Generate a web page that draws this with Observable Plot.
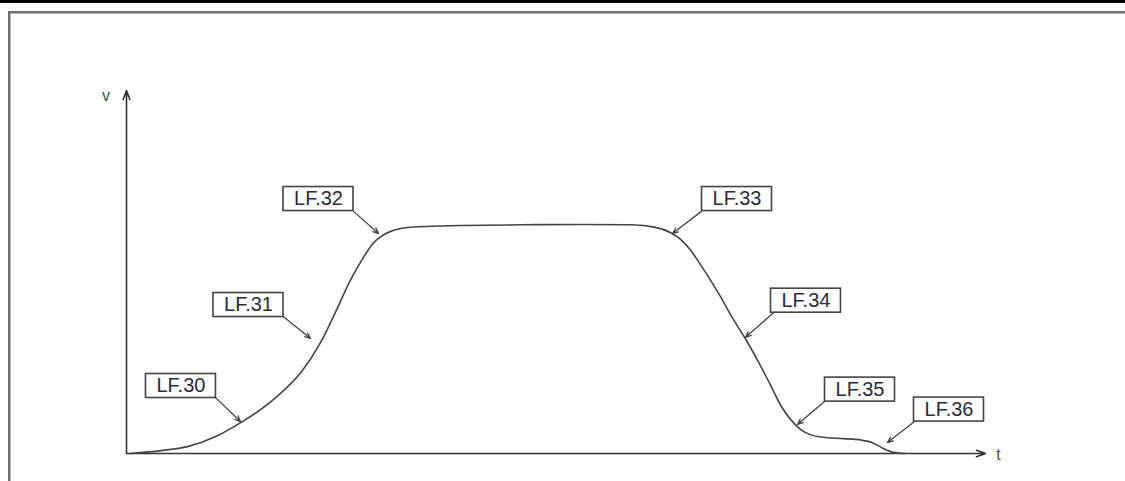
<!DOCTYPE html>
<html>
<head>
<meta charset="utf-8">
<script src="https://cdn.jsdelivr.net/npm/d3@7"></script>
<script src="https://cdn.jsdelivr.net/npm/@observablehq/plot@0.6"></script>
<style>
  html, body { margin: 0; padding: 0; background: #fff; }
  #wrap { position: relative; width: 1125px; height: 481px; overflow: hidden; background: #fff; }
  #topbar { position: absolute; left: 0; top: 0; width: 1125px; height: 3px; background: #000; }
  #frame { position: absolute; left: 8px; top: 11px; width: 1125px; height: 480px;
           border-top: 2px solid #6e6e6e; border-left: 2px solid #6e6e6e;
           box-shadow: inset 1px 1px 0 #b4b4b4; box-sizing: border-box; }
  #chart { position: absolute; left: 0; top: 0; }
</style>
</head>
<body>
<div id="wrap">
  <div id="topbar"></div>
  <div id="frame"></div>
  <div id="chart"></div>
</div>
<script>
// Curve: time t vs value v (abstract units)
const curveT = [0.05, 0.40, 0.71, 1.04, 1.33, 1.56, 1.79, 2.03, 2.26, 2.43, 2.61, 2.75, 2.86, 3.02, 3.19, 3.42, 3.89, 4.59, 5.29, 5.87, 6.16, 6.33, 6.45, 6.57, 6.68, 6.80, 6.92, 7.03, 7.21, 7.38, 7.50, 7.61, 7.73, 7.85, 7.96, 8.14, 8.35, 8.55, 8.69, 8.81, 8.93, 9.07];
const curveV = [0.00, 0.08, 0.19, 0.47, 0.85, 1.21, 1.65, 2.23, 3.06, 3.88, 4.79, 5.37, 5.76, 6.06, 6.20, 6.25, 6.28, 6.30, 6.31, 6.30, 6.23, 6.09, 5.90, 5.59, 5.21, 4.77, 4.30, 3.83, 3.14, 2.42, 1.87, 1.35, 0.94, 0.66, 0.52, 0.44, 0.41, 0.37, 0.29, 0.14, 0.03, 0.00];

// Callout labels
const labelNames = ["LF.30", "LF.31", "LF.32", "LF.33", "LF.34", "LF.35", "LF.36"];
const labelT     = [0.634, 1.420, 2.235, 7.107, 7.910, 8.539, 9.575];
const labelV     = [1.86, 4.09, 7.01, 7.01, 4.21, 1.76, 1.21];
const arrowFromT = [1.036, 1.828, 2.643, 6.694, 7.532, 8.126, 9.173];
const arrowFromV = [1.54, 3.77, 6.67, 6.67, 3.88, 1.43, 0.88];
const arrowToT   = [1.327, 2.142, 2.934, 6.356, 7.206, 7.811, 8.859];
const arrowToV   = [0.88, 3.17, 6.06, 6.06, 3.20, 0.80, 0.30];

// Axes
const axisNames = ["v", "t"];
const axisEndT = [0, 10];
const axisEndV = [10, 0];
const axisLabelT = [-0.24, 10.15];
const axisLabelV = [9.86, -0.05];

const curve = curveT.map((t, i) => ({t, v: curveV[i]}));
const labels = labelNames.map((name, i) => ({
  name, t: labelT[i], v: labelV[i],
  t1: arrowFromT[i], v1: arrowFromV[i], t2: arrowToT[i], v2: arrowToV[i]
}));
const axes = axisNames.map((name, i) => ({
  name, t1: 0, v1: 0, t2: axisEndT[i], v2: axisEndV[i], lt: axisLabelT[i], lv: axisLabelV[i]
}));

const chart = Plot.plot({
  width: 1125,
  height: 481,
  marginLeft: 126,
  marginRight: 140,
  marginTop: 90,
  marginBottom: 28,
  x: {domain: [0, 10], axis: null},
  y: {domain: [0, 10], axis: null},
  style: {background: "transparent", fontFamily: "'Liberation Sans', Arial, sans-serif"},
  marks: [
    Plot.arrow(axes, {x1: "t1", y1: "v1", x2: "t2", y2: "v2", stroke: "#333", strokeWidth: 1.6, headLength: 9, headAngle: 40}),
    Plot.text(axes, {x: "lt", y: "lv", text: "name", fontSize: 16, fill: "#3a5a3a"}),
    Plot.line(curve, {x: "t", y: "v", stroke: "#444", strokeWidth: 1.6, curve: "monotone-x"}),
    Plot.arrow(labels, {x1: "t1", y1: "v1", x2: "t2", y2: "v2", stroke: "#444", strokeWidth: 1.3, headLength: 7, headAngle: 45}),
    Plot.rect(labels, {x1: "t", x2: "t", y1: "v", y2: "v", insetLeft: -35, insetRight: -35, insetTop: -12, insetBottom: -12, fill: "#fff", stroke: "#444", strokeWidth: 1.6}),
    Plot.text(labels, {x: "t", y: "v", text: "name", fontSize: 20, fill: "#2a2a3a"})
  ]
});
document.getElementById("chart").appendChild(chart);
</script>
</body>
</html>
